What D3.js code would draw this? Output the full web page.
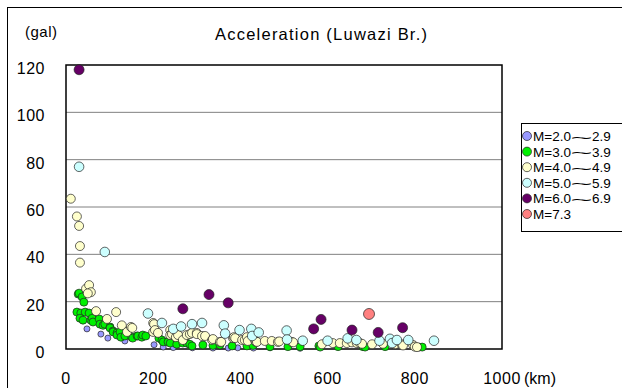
<!DOCTYPE html>
<html>
<head>
<meta charset="utf-8">
<script src="https://cdn.jsdelivr.net/npm/d3@7"></script>
<style>
  body { margin: 0; background: #fff; }
  svg { display: block; font-family: "Liberation Sans", Arial, sans-serif; }
</style>
</head>
<body>
<div id="chart"></div>
<script>
// [distance km, acceleration gal]
const m2 = [[48,8.5],[80,6.3],[96,4.6],[135,3.4],[202,1.8],[223,0.8],[246,0.6],[290,0.5],[337,0.4],[372,0.4],[394,0.5],[430,0.4],[468,0.5],[537,0.3]];
const m3 = [[28,23.2],[30,23.6],[37,22],[41,19.8],[25,15.6],[34,15.2],[44,15.6],[32,13],[39,12.2],[53,15.2],[57,12.2],[60,13],[62,11.4],[76,12.7],[78,10.5],[85,10],[89,10.5],[101,9.3],[101,8.9],[108,7.6],[108,7.2],[117,6.8],[117,5.9],[124,7.2],[126,5],[135,5.5],[151,5],[153,4.6],[163,5.5],[165,5.5],[174,5],[176,5.9],[183,5.5],[213,4.6],[220,3.8],[223,3],[234,3],[239,2.5],[254,2],[268,2.5],[277,2.5],[284,2],[289,1.3],[314,1.7],[337,1.5],[353,1.7],[381,1.3],[415,1.3],[429,1.5],[468,1],[509,1],[537,1],[580,1.3],[583,0.8],[624,1],[681,1],[686,0.8],[732,1],[810,0.8],[817,0.8]];
const m4 = [[11,63.5],[25,56],[30,52],[32,43.5],[32,36.5],[46,25.5],[53,27],[57,24],[50,23.5],[69,16],[94,12.7],[115,15.6],[128,10],[140,7.2],[149,9.3],[152,8.9],[200,11],[202,10.5],[200,7.2],[204,8],[211,6.8],[239,8],[239,5.9],[243,6.3],[252,5],[257,5.9],[268,3.8],[277,5.9],[284,6.3],[289,6.8],[300,6.8],[300,6.3],[312,5.5],[319,5.5],[335,3.8],[337,4.2],[353,3],[356,3],[383,4.6],[385,5],[388,4.6],[404,3.8],[410,3.8],[415,5],[417,3.4],[433,3.8],[436,3],[438,3],[456,3.4],[472,3.4],[486,3],[489,3.2],[518,3],[521,2.8],[587,2],[612,2.5],[628,2.5],[644,2.5],[656,2.8],[667,2.5],[674,2.5],[679,2.2],[702,2],[727,2.2],[755,2],[770,2],[773,1.5],[796,1.7],[800,1],[805,0.8]];
const m5 = [[30,77],[89,41],[188,15],[220,11],[246,8.5],[264,9.5],[289,10.5],[312,11],[362,10],[365,6.5],[398,8],[425,8.5],[427,5.5],[442,7],[506,7.8],[507,4],[543,3.5],[600,3.5],[646,4.5],[666,3.8],[719,3.5],[743,4.3],[748,2.5],[759,3.8],[785,3.8],[844,3.5]];
const m6 = [[30,118],[268,17],[328,23],[372,19.5],[568,8.5],[585,12.5],[656,8],[716,7],[772,9]];
const m7 = [[695,14.8]];

// legend labels: [from, to] (single value when "to" is null)
const seriesLabels = [["2.0", "2.9"], ["3.0", "3.9"], ["4.0", "4.9"], ["5.0", "5.9"], ["6.0", "6.9"], ["7.3", null]];
const seriesColors = ["#9999ff", "#00f000", "#ffffcc", "#ccffff", "#660066", "#ff8080"];
const seriesRadius = [3, 4, 4.5, 4.8, 5, 5.5];
const xTicks = [0, 200, 400, 600, 800, 1000];
const yTicks = [0, 20, 40, 60, 80, 100, 120];

const series = [m2, m3, m4, m5, m6, m7];

const width = 622, height = 388;
const svg = d3.select("#chart").append("svg")
  .attr("width", width).attr("height", height);

// outer chart frame (runs off right/bottom of the crop)
svg.append("rect").attr("x", 7.5).attr("y", 7.5)
  .attr("width", 800).attr("height", 600)
  .attr("fill", "none").attr("stroke", "#000").attr("stroke-width", 1);

const x = d3.scaleLinear().domain([0, 1000]).range([66, 502]);
const y = d3.scaleLinear().domain([0, 120]).range([349, 65]);

// gridlines
svg.append("g").selectAll("line").data(yTicks.filter(d => d > 0 && d < 120)).enter().append("line")
  .attr("x1", x(0)).attr("x2", x(1000))
  .attr("y1", d => y(d)).attr("y2", d => y(d))
  .attr("stroke", "#808080").attr("stroke-width", 1);

// plot frame
svg.append("rect")
  .attr("x", x(0)).attr("y", y(120))
  .attr("width", x(1000) - x(0)).attr("height", y(0) - y(120))
  .attr("fill", "none").attr("stroke", "#000").attr("stroke-width", 1.5);

// tick labels
svg.append("g").selectAll("text").data(yTicks).enter().append("text")
  .attr("x", 45).attr("y", d => y(d) + 9)
  .attr("text-anchor", "end").attr("font-size", "16px").attr("letter-spacing", "0.5px")
  .text(d => d);

svg.append("g").selectAll("text").data(xTicks).enter().append("text")
  .attr("x", d => x(d)).attr("y", 384)
  .attr("text-anchor", "middle").attr("font-size", "16px").attr("letter-spacing", "0.5px")
  .text(d => d);

svg.append("text").attr("x", 524).attr("y", 384).attr("font-size", "16px").text("(km)");
svg.append("text").attr("x", 25).attr("y", 37).attr("font-size", "15px").attr("letter-spacing", "0.5px").text("(gal)");
svg.append("text").attr("x", 215).attr("y", 40).attr("font-size", "16.5px")
  .attr("textLength", 212).attr("lengthAdjust", "spacing")
  .text("Acceleration (Luwazi Br.)");

// points
series.forEach((data, i) => {
  svg.append("g").selectAll("circle").data(data).enter().append("circle")
    .attr("cx", d => x(d[0]))
    .attr("cy", d => y(d[1]))
    .attr("r", seriesRadius[i])
    .attr("fill", seriesColors[i])
    .attr("stroke", "#222").attr("stroke-width", 0.7);
});

// legend
const legend = svg.append("g");
legend.append("rect").attr("x", 521.5).attr("y", 123.5).attr("width", 200).attr("height", 108)
  .attr("fill", "#fff").attr("stroke", "#000");
const rows = legend.selectAll("g").data(seriesLabels).enter().append("g")
  .attr("transform", (d, i) => `translate(0, ${136 + i * 15.6})`);
rows.append("circle").attr("cx", 527).attr("cy", 0).attr("r", 4.5)
  .attr("fill", (d, i) => seriesColors[i]).attr("stroke", "#222").attr("stroke-width", 0.7);

rows.each(function(d) {
  const row = d3.select(this);
  const first = row.append("text").attr("x", 533).attr("y", 5).attr("font-size", "13.5px")
    .text("M=" + d[0]);
  if (!d[1]) return;
  const x0 = 533 + first.node().getComputedTextLength();
  // long wave dash, stretched horizontally like the original font
  row.append("text").attr("font-size", "13.5px")
    .attr("transform", `translate(${x0 - 0.5}, 5.5) scale(2.8, 1)`)
    .text("~");
  row.append("text").attr("x", x0 + 21).attr("y", 5).attr("font-size", "13.5px")
    .text(d[1]);
});
</script>
</body>
</html>
